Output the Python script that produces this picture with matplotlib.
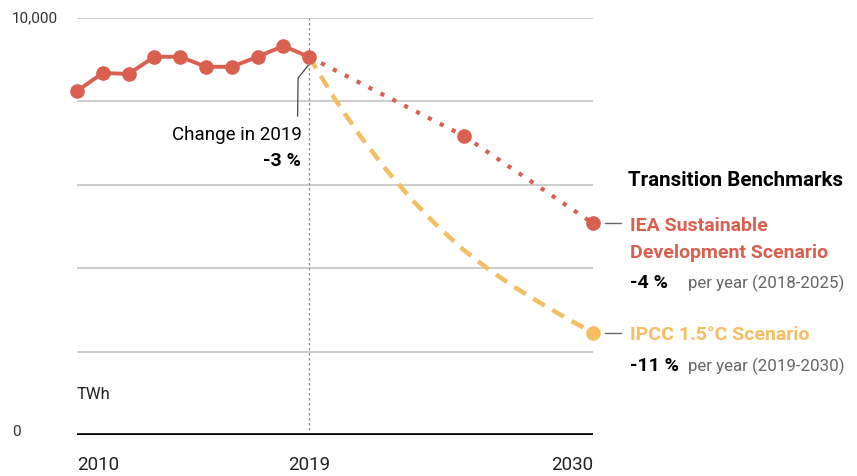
import matplotlib
matplotlib.use("Agg")
import matplotlib.pyplot as plt

# historic electricity use, TWh
hist_years = [2010, 2011, 2012, 2013, 2014, 2015, 2016, 2017, 2018, 2019]
hist_values = [8250, 8680, 8660, 9070, 9070, 8830, 8830, 9070, 9330, 9065]

# IEA SDS pathway
iea_years = [2019, 2025, 2030]
iea_values = [9065, 7170, 5075]

# IPCC 1.5C pathway (read per year off the curve)
ipcc_years = [2019, 2020, 2021, 2022, 2023, 2024, 2025, 2026, 2027, 2028, 2029, 2030]
ipcc_values = [9065, 8050, 7150, 6350, 5630, 4990, 4430, 3950, 3530, 3150, 2790, 2450]

grid_levels = [2000, 4000, 6000, 8000, 10000]
x_ticks = [2010, 2019, 2030]

RED = "#d9604f"
ORANGE = "#f6be62"
GREY = "#666666"

plt.rcParams['font.family'] = ['Roboto', 'DejaVu Sans']

fig = plt.figure(figsize=(8.57, 4.76), dpi=100)
ax = fig.add_axes([77 / 857, 41 / 476, 516 / 857, 417 / 476])
ax.set_xlim(2010, 2030)
ax.set_ylim(0, 10000)
ax.axis("off")

for lvl in grid_levels:
    ax.axhline(lvl, color="#c4c4c4", lw=1.2, zorder=1)
ax.axhline(0, color="black", lw=2.6, zorder=2)

# 2019 marker line
ax.plot([2019, 2019], [0, 10000], color="#888888", lw=0.9, ls=(0, (2, 2)), zorder=1)

ax.plot(ipcc_years, ipcc_values, color=ORANGE, lw=3.2, ls=(0, (3, 2)), zorder=3)
ax.plot(iea_years, iea_values, color=RED, lw=3, ls=(0, (1, 2.2)), zorder=3)
ax.plot(iea_years[1:], iea_values[1:], "o", color=RED, ms=9.5, zorder=4, clip_on=False)
ax.plot(ipcc_years[-1:], ipcc_values[-1:], "o", color=ORANGE, ms=9.5, zorder=4, clip_on=False)
ax.plot(hist_years, hist_values, "-o", color=RED, lw=2.8, ms=9.5, zorder=5, clip_on=False)

# callout for 2019
ax.plot([2018.55, 2018.57, 2018.97], [7650, 8560, 8870], color="#444444", lw=0.9, zorder=3)
ax.text(2018.7, 7200, "Change in 2019", ha="right", va="center", fontsize=13.5)
ax.text(2018.7, 6580, "-3 %", ha="right", va="center", fontsize=14, fontweight="bold")

# axis labels
for yr, al in zip(x_ticks, ["left", "center", "right"]):
    ax.text(yr, -730, str(yr), ha=al, va="center", fontsize=13.5, color="#222222")
fig.text(12 / 857, 1 - 18 / 476, "10,000", ha="left", va="center", fontsize=11, color="#333333")
fig.text(12 / 857, 1 - 432 / 476, "0", ha="left", va="center", fontsize=11, color="#333333")
ax.text(2010, 960, "TWh", ha="left", va="center", fontsize=12, color="#222222")

# benchmark legend on the right
for yv in [iea_values[-1], ipcc_values[-1]]:
    ax.plot([2030.45, 2031.1], [yv, yv], color=GREY, lw=1, clip_on=False)

fig.text(628 / 857, 1 - 180 / 476, "Transition Benchmarks", ha="left", va="center",
         fontsize=14.8, fontweight="bold")
fig.text(630 / 857, 1 - 226 / 476, "IEA Sustainable", ha="left", va="center",
         fontsize=14, fontweight="bold", color=RED)
fig.text(630 / 857, 1 - 253 / 476, "Development Scenario", ha="left", va="center",
         fontsize=14, fontweight="bold", color=RED)
fig.text(630 / 857, 1 - 283 / 476, "-4 %", ha="left", va="center",
         fontsize=14, fontweight="bold")
fig.text(688 / 857, 1 - 283 / 476, "per year (2018-2025)", ha="left", va="center",
         fontsize=12.2, color=GREY)
fig.text(630 / 857, 1 - 335 / 476, "IPCC 1.5°C Scenario", ha="left", va="center",
         fontsize=14, fontweight="bold", color=ORANGE)
fig.text(630 / 857, 1 - 366 / 476, "-11 %", ha="left", va="center",
         fontsize=14, fontweight="bold")
fig.text(688 / 857, 1 - 366 / 476, "per year (2019-2030)", ha="left", va="center",
         fontsize=12.2, color=GREY)

fig.savefig("out.png", dpi=100)
